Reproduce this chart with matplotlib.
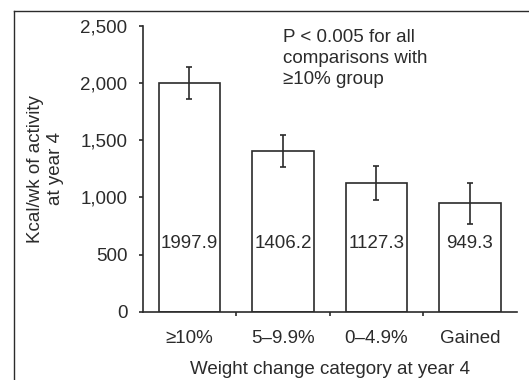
import matplotlib.pyplot as plt
from matplotlib.lines import Line2D

# Mean weekly activity by weight change group, with error bar half-widths
categories = ['≥10%', '5–9.9%', '0–4.9%', 'Gained']
kcal = [1997.9, 1406.2, 1127.3, 949.3]
err = [140, 138, 150, 181]
yticks = [0, 500, 1000, 1500, 2000, 2500]
ytick_labels = ['0', '500', '1,000', '1,500', '2,000', '2,500']

ink = '#2b2b2b'
fs = 13.5
plt.rcParams['font.family'] = ['Liberation Sans', 'DejaVu Sans']

fig = plt.figure(figsize=(5.29, 3.80), dpi=100)
ax = fig.add_axes([0.2698, 0.1797, 0.707, 0.752])

# frame lines along the top and left of the figure
top = 1 - 10.7 / 380
left = 13.5 / 529
fig.add_artist(Line2D([left, 1.05], [top, top], transform=fig.transFigure,
                      color=ink, linewidth=1.0))
fig.add_artist(Line2D([left, left], [-0.05, top], transform=fig.transFigure,
                      color=ink, linewidth=1.0))

x = [i + 0.5 for i in range(len(categories))]
ax.bar(x, kcal, width=0.66, color='white', edgecolor=ink, linewidth=1.2)
ax.errorbar(x, kcal, yerr=err, fmt='none', ecolor=ink, elinewidth=1.2,
            capsize=2.2, capthick=1.2)

for xi, v in zip(x, kcal):
    ax.text(xi, 600, f'{v:.1f}', ha='center', va='center', fontsize=fs, color=ink)

ax.text(1.5, 2470, 'P < 0.005 for all\ncomparisons with\n≥10% group',
        ha='left', va='top', fontsize=fs, color=ink, linespacing=1.3)

ax.set_xlim(0, 4)
ax.set_ylim(0, 2500)
ax.set_yticks(yticks)
ax.set_yticklabels(ytick_labels)
ax.set_xticks([1, 2, 3])
ax.set_xticklabels([])
ax.set_xticks(x, minor=True)
ax.set_xticklabels(categories, minor=True)
ax.tick_params(axis='x', which='minor', length=0, pad=13, labelsize=fs, labelcolor=ink)
ax.tick_params(axis='x', which='major', length=3, width=1.2, color=ink)
ax.tick_params(axis='y', length=3, width=1.2, color=ink, pad=8, labelsize=fs, labelcolor=ink)

for s in ['top', 'right']:
    ax.spines[s].set_visible(False)
for s in ['left', 'bottom']:
    ax.spines[s].set_color(ink)
    ax.spines[s].set_linewidth(1.2)

ax.set_xlabel('Weight change category at year 4', fontsize=fs, color=ink, labelpad=10)
ax.set_ylabel('Kcal/wk of activity\nat year 4', fontsize=fs, color=ink, labelpad=12,
              multialignment='center')

fig.savefig('out.png', dpi=100)
